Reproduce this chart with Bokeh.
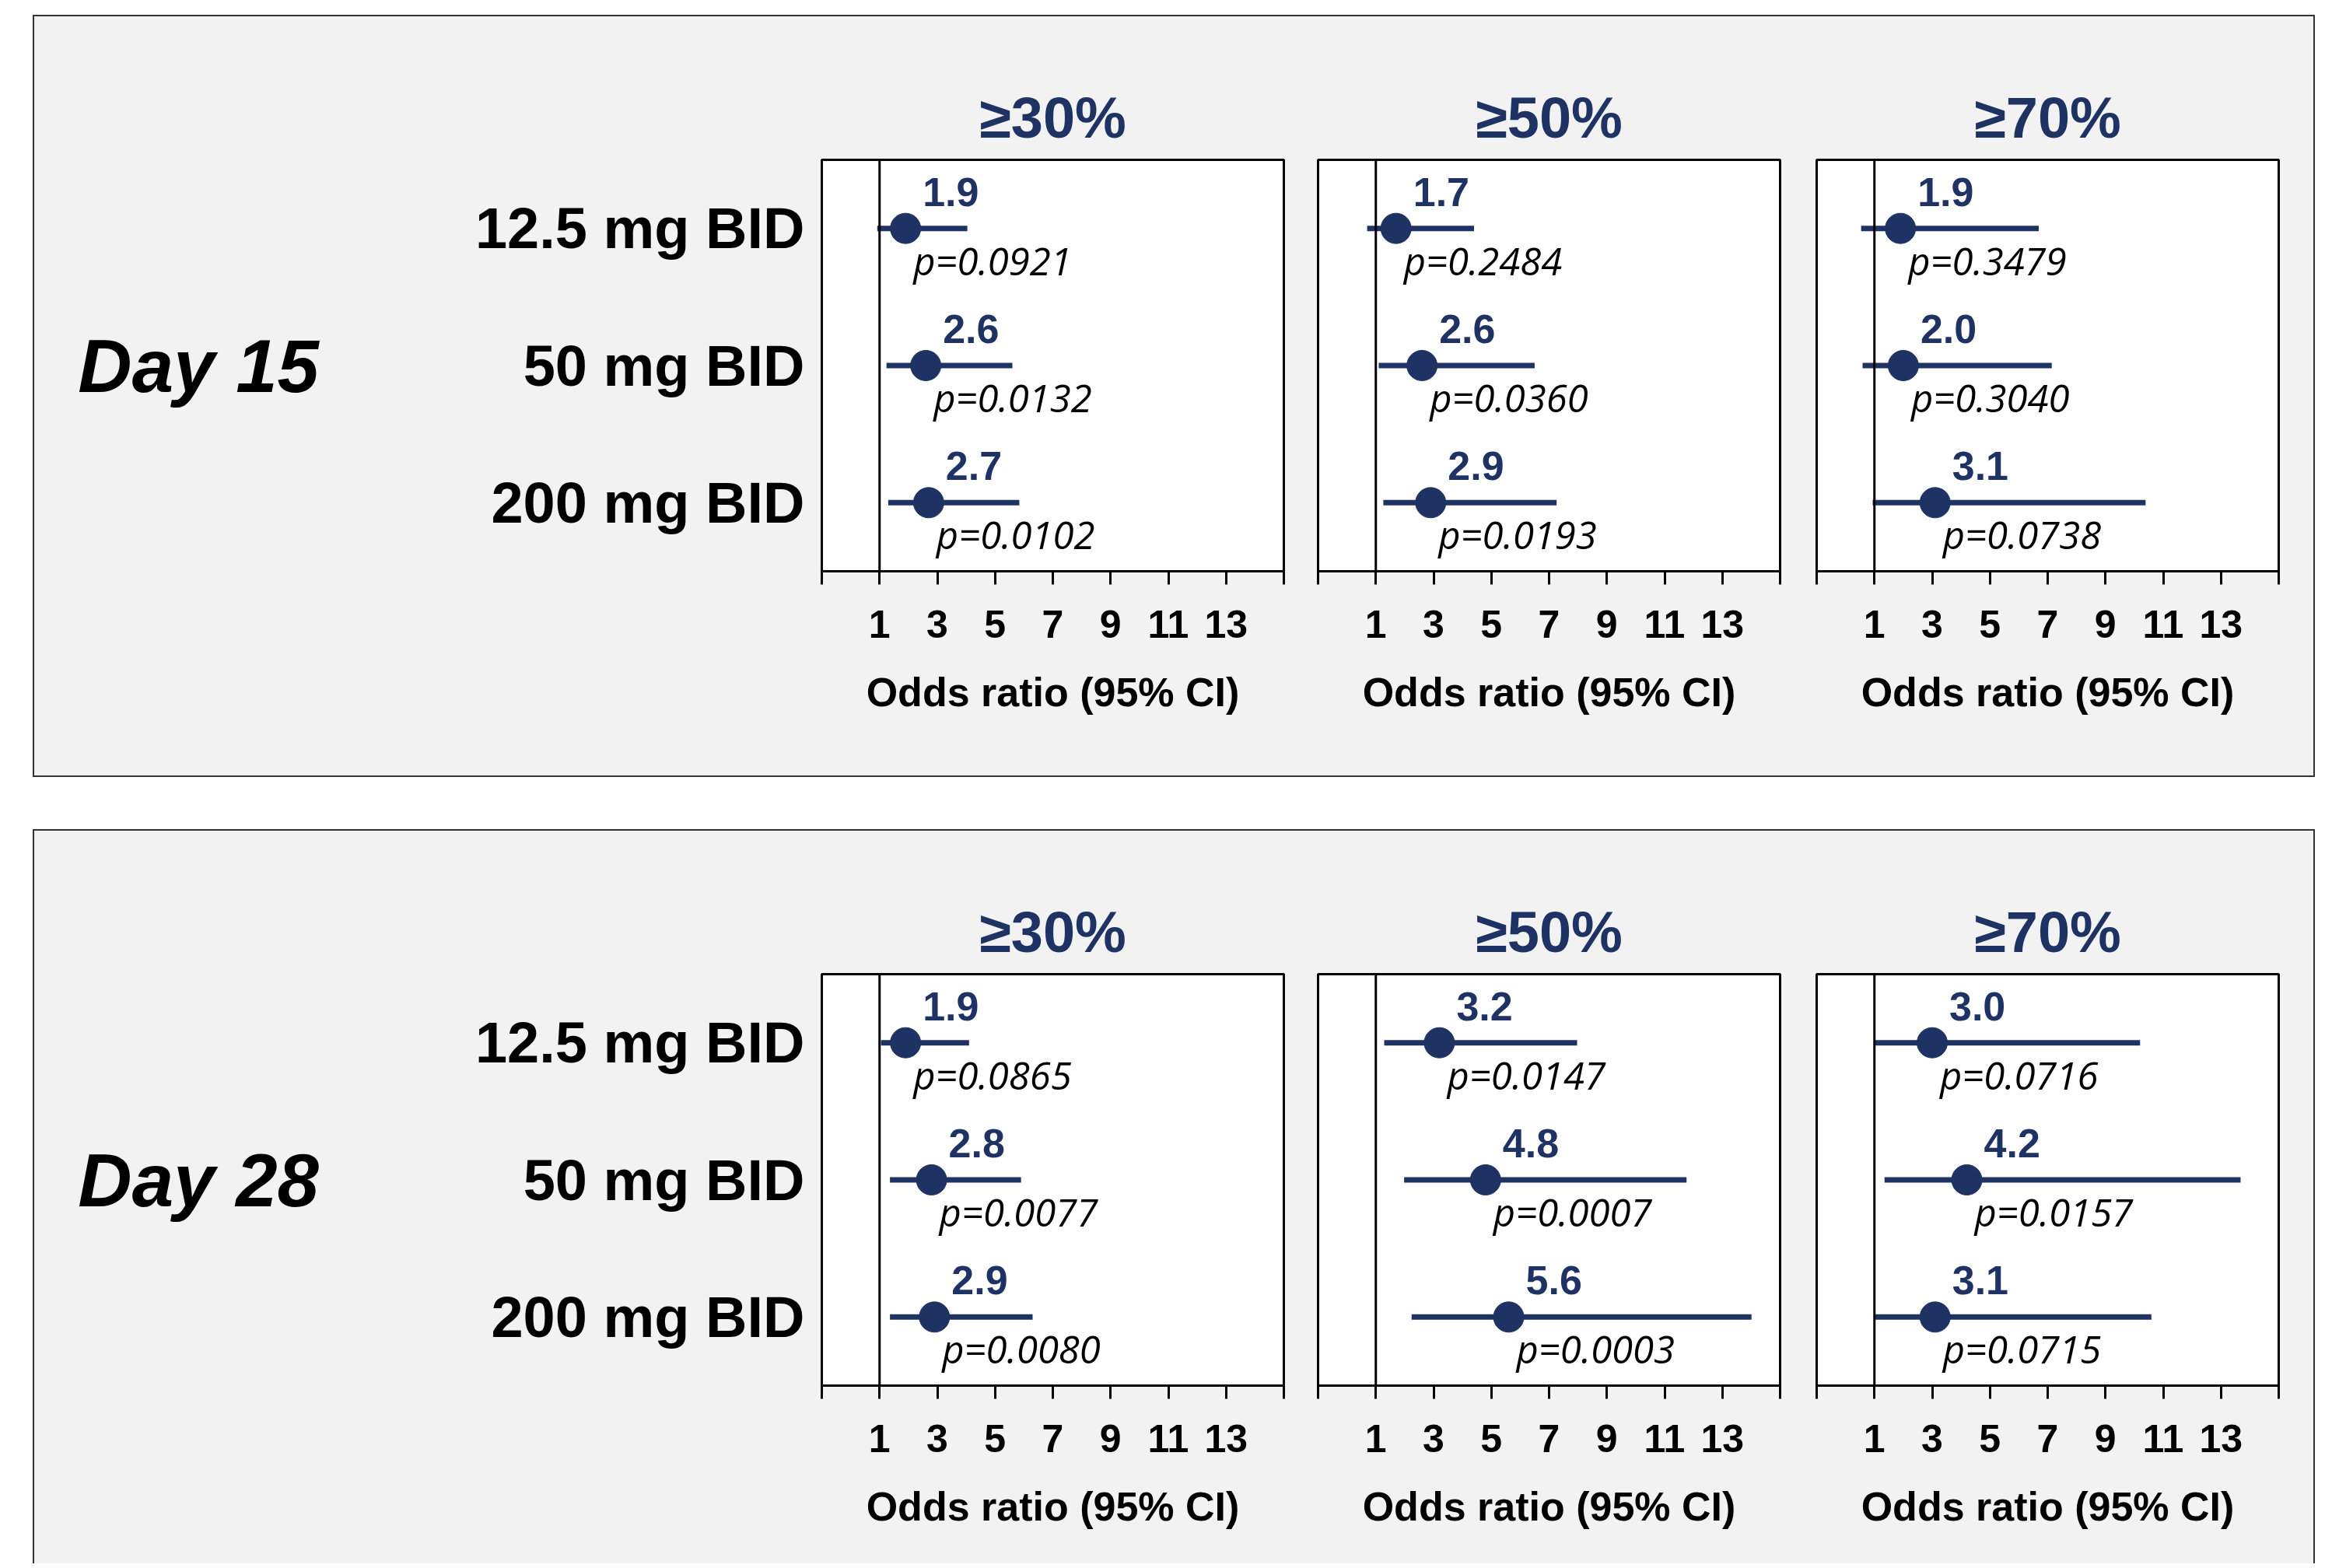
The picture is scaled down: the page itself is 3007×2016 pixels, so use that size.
from bokeh.plotting import figure
from bokeh.layouts import row, column
from bokeh.models import ColumnDataSource, FactorRange, Range1d, FixedTicker, Span
from bokeh.core.properties import value
from bokeh.embed import file_html
from bokeh.resources import INLINE

# ---------------- data ----------------
doses = ["12.5 mg BID", "50 mg BID", "200 mg BID"]
thresholds = ["≥30%", "≥50%", "≥70%"]
days = ["Day 15", "Day 28"]
x_ticks = [-1, 1, 3, 5, 7, 9, 11, 13, 15]

# Day 15
d15_30_or = [1.9, 2.6, 2.7]
d15_30_lo = [0.92, 1.24, 1.30]
d15_30_hi = [4.04, 5.60, 5.84]
d15_30_p = ["0.0921", "0.0132", "0.0102"]

d15_50_or = [1.7, 2.6, 2.9]
d15_50_lo = [0.70, 1.10, 1.26]
d15_50_hi = [4.40, 6.50, 7.26]
d15_50_p = ["0.2484", "0.0360", "0.0193"]

d15_70_or = [1.9, 2.0, 3.1]
d15_70_lo = [0.54, 0.59, 0.94]
d15_70_hi = [6.69, 7.14, 10.39]
d15_70_p = ["0.3479", "0.3040", "0.0738"]

# Day 28
d28_30_or = [1.9, 2.8, 2.9]
d28_30_lo = [1.05, 1.36, 1.36]
d28_30_hi = [4.10, 5.90, 6.30]
d28_30_p = ["0.0865", "0.0077", "0.0080"]

d28_50_or = [3.2, 4.8, 5.6]
d28_50_lo = [1.29, 1.98, 2.24]
d28_50_hi = [7.97, 11.76, 14.01]
d28_50_p = ["0.0147", "0.0007", "0.0003"]

d28_70_or = [3.0, 4.2, 3.1]
d28_70_lo = [1.00, 1.35, 1.00]
d28_70_hi = [10.20, 13.68, 10.59]
d28_70_p = ["0.0716", "0.0157", "0.0715"]

panels = {
    "Day 15": [(d15_30_or, d15_30_lo, d15_30_hi, d15_30_p),
               (d15_50_or, d15_50_lo, d15_50_hi, d15_50_p),
               (d15_70_or, d15_70_lo, d15_70_hi, d15_70_p)],
    "Day 28": [(d28_30_or, d28_30_lo, d28_30_hi, d28_30_p),
               (d28_50_or, d28_50_lo, d28_50_hi, d28_50_p),
               (d28_70_or, d28_70_lo, d28_70_hi, d28_70_p)],
}

# ---------------- style ----------------
NAVY = "#1f3264"
GRAY = "#f2f2f2"
FONT = "Liberation Sans"
FRAME_W = 594
FRAME_H = 529
TOP = 184


def make_panel(day, k, vals, first, bottom_border):
    o, lo, hi, pv = vals
    src = ColumnDataSource(dict(
        dose=doses, orv=o, lo=lo, hi=hi,
        olbl=[f"{v:.1f}" for v in o],
        plbl=["p=" + s for s in pv],
    ))
    if first:
        left, right = 1012, 22
    elif k == 1:
        left, right = 22, 23
    else:
        left, right = 24, 45
    w = left + FRAME_W + right
    h = TOP + FRAME_H + bottom_border
    p = figure(width=w, height=h, output_backend="svg", toolbar_location=None,
               x_range=Range1d(-1, 15), y_range=FactorRange(*doses[::-1]),
               y_axis_location="left" if first else None,
               min_border_left=left, min_border_right=right,
               min_border_top=TOP, min_border_bottom=bottom_border)
    p.background_fill_color = "white"
    p.border_fill_color = GRAY
    p.outline_line_color = "black"
    p.outline_line_width = 3
    p.grid.visible = False

    p.title.text = thresholds[k]
    p.title.align = "center"
    p.title.text_font = FONT
    p.title.text_font_size = "74px"
    p.title.text_font_style = "bold"
    p.title.text_color = NAVY
    p.title.standoff = 26

    p.add_layout(Span(location=1, dimension="height", line_color="black", line_width=3))

    p.segment(x0="lo", y0="dose", x1="hi", y1="dose", source=src,
              line_color=NAVY, line_width=7)
    p.scatter(x="orv", y="dose", source=src, marker="circle", size=39,
              fill_color=NAVY, line_color=NAVY)
    p.text(x="orv", y="dose", text="olbl", source=src, x_offset=22, y_offset=-47,
           text_align="left", text_baseline="alphabetic", text_color=NAVY,
           text_font=value(FONT), text_font_style="bold", text_font_size="52px")
    p.text(x="orv", y="dose", text="plbl", source=src, x_offset=10, y_offset=41,
           text_align="left", text_baseline="alphabetic", text_color="black",
           text_font=value("Open Sans"), text_font_style="italic", text_font_size="49px")

    ax = p.xaxis[0]
    ax.ticker = FixedTicker(ticks=x_ticks)
    ax.major_label_overrides = {-1: "", 15: ""}
    ax.major_tick_in = 0
    ax.major_tick_out = 17
    ax.major_tick_line_width = 3
    ax.major_tick_line_color = "black"
    ax.minor_tick_line_color = None
    ax.axis_line_color = "black"
    ax.axis_line_width = 3
    ax.major_label_standoff = 33
    ax.major_label_text_font = FONT
    ax.major_label_text_font_style = "bold"
    ax.major_label_text_font_size = "50px"
    ax.major_label_text_color = "black"
    ax.axis_label = "Odds ratio (95% CI)"
    ax.axis_label_text_font = FONT
    ax.axis_label_text_font_style = "bold"
    ax.axis_label_text_font_size = "52px"
    ax.axis_label_text_color = "black"
    ax.axis_label_standoff = 38

    if first:
        ya = p.yaxis[0]
        ya.major_tick_line_color = None
        ya.minor_tick_line_color = None
        ya.axis_line_color = None
        ya.major_label_standoff = 16
        ya.major_label_text_font = FONT
        ya.major_label_text_font_style = "bold"
        ya.major_label_text_font_size = "74px"
        ya.major_label_text_color = "black"
        ya.axis_label = day
        ya.axis_label_orientation = "horizontal"
        ya.axis_label_text_font = FONT
        ya.axis_label_text_font_style = "bold italic"
        ya.axis_label_text_font_size = "96px"
        ya.axis_label_text_color = "black"
        ya.axis_label_standoff = 198
    return p


box1 = row([make_panel("Day 15", k, panels["Day 15"][k], k == 0, 263) for k in range(3)],
           spacing=0,
           styles={"background-color": GRAY, "border": "2px solid #333333"})
box2 = row([make_panel("Day 28", k, panels["Day 28"][k], k == 0, 229) for k in range(3)],
           spacing=0,
           styles={"background-color": GRAY, "border-top": "2px solid #333333",
                   "border-left": "2px solid #333333", "border-right": "2px solid #333333"})

page = column([box1, box2], spacing=67, margin=(19, 0, 0, 42))

open("out.html", "w").write(file_html(page, INLINE))
